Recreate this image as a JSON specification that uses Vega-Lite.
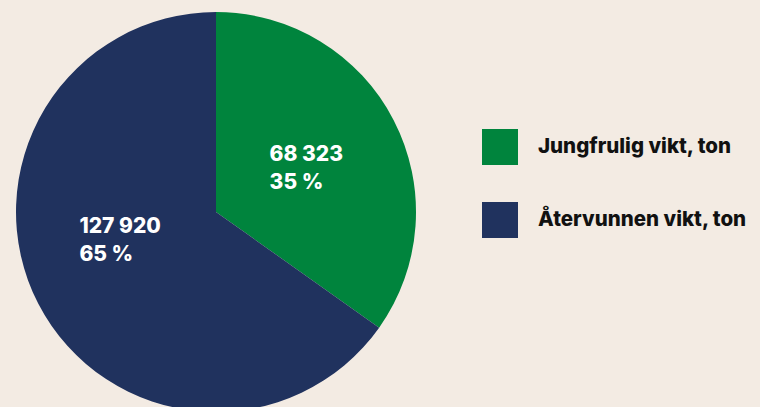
{
  "$schema": "https://vega.github.io/schema/vega-lite/v6.json",
  "width": 432,
  "height": 424,
  "padding": {"left": 0, "top": 0, "right": 60, "bottom": 0},
  "autosize": {"type": "pad"},
  "background": "#f3ebe3",
  "config": {"view": {"stroke": null}},
  "data": {
    "values": [
      {"kategori": "Jungfrulig vikt, ton", "vikt": 68323, "ordning": 1, "etikett": ["68 323", "35 %"]},
      {"kategori": "Återvunnen vikt, ton", "vikt": 127920, "ordning": 2, "etikett": ["127 920", "65 %"]}
    ]
  },
  "encoding": {
    "theta": {"field": "vikt", "type": "quantitative", "stack": true},
    "order": {"field": "ordning", "type": "quantitative"}
  },
  "layer": [
    {
      "mark": {"type": "arc", "outerRadius": 200, "stroke": null},
      "encoding": {
        "color": {
          "field": "kategori",
          "type": "nominal",
          "sort": ["Jungfrulig vikt, ton", "Återvunnen vikt, ton"],
          "scale": {"domain": ["Jungfrulig vikt, ton", "Återvunnen vikt, ton"], "range": ["#00843d", "#20325e"]},
          "legend": {
            "title": null,
            "orient": "none",
            "legendX": 482,
            "legendY": 129,
            "padding": 0,
            "symbolType": "square",
            "symbolSize": 1296,
            "symbolStrokeWidth": 0,
            "symbolOpacity": 1,
            "rowPadding": 37,
            "labelOffset": 20,
            "labelFont": "Inter",
            "labelFontSize": 20.5,
            "labelFontWeight": 800,
            "labelColor": "#111111",
            "labelLimit": 400
          }
        }
      }
    },
    {
      "mark": {"type": "text", "radius": 102, "align": "left", "baseline": "middle", "dx": -37, "dy": -10, "font": "Inter", "fontSize": 21, "fontWeight": 800, "color": "#ffffff", "lineHeight": 28},
      "encoding": {"text": {"condition": {"test": "datum.ordning == 1", "field": "etikett"}, "value": ""}}
    },
    {
      "mark": {"type": "text", "radius": 102, "align": "left", "baseline": "middle", "dx": -46, "dy": -32, "font": "Inter", "fontSize": 21, "fontWeight": 800, "color": "#ffffff", "lineHeight": 28},
      "encoding": {"text": {"condition": {"test": "datum.ordning == 2", "field": "etikett"}, "value": ""}}
    }
  ]
}
